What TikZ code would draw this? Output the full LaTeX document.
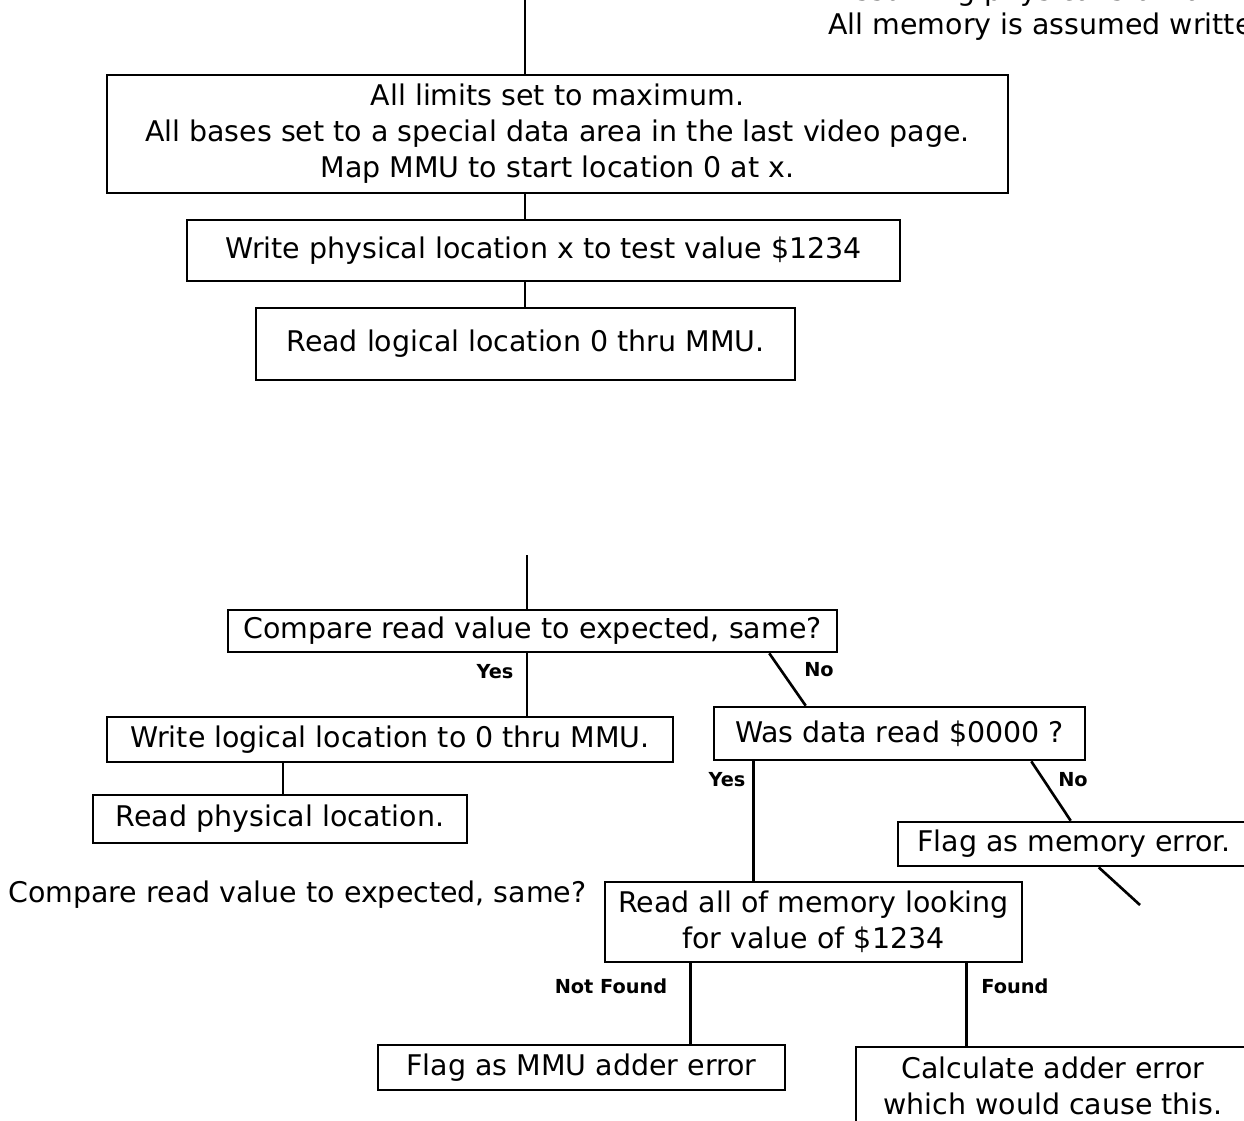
\documentclass[tikz,border=0pt]{standalone}
\usepackage{fontspec}
\setmainfont{DejaVu Sans}
\usetikzlibrary{positioning}
\tikzset{
  stepbox/.style={draw, line width=1.5pt, inner sep=0pt, align=center,
    font=\fontsize{16.2}{20.5}\selectfont},
  wire/.style={line width=1.5pt},
  lab/.style={font=\bfseries\fontsize{11}{13}\selectfont},
  txt/.style={font=\fontsize{16.2}{20}\selectfont, inner sep=0pt},
}

\begin{document}
\begin{tikzpicture}[x=0.02cm,y=-0.02cm]
\clip (0,0) rectangle (1244,1120);

% ===================== note, top right =====================================
\node[txt, anchor=west] (note1) at (836,-7) {Assuming physical start at};
\node[txt, anchor=west] (note2) at (828,27) {All memory is assumed written};

% ===================== upper chain =========================================
\coordinate (spine) at (525,0);
\node[stepbox, minimum width=18.02cm, minimum height=2.36cm] (limits) at (557.5,134)
  {All limits set to maximum.\\
   All bases set to a special data area in the last video page.\\
   Map MMU to start location 0 at x.};
\node[stepbox, minimum width=14.26cm, minimum height=1.22cm] (writephys) at (543.5,250.5)
  {Write physical location x to test value \$1234};
\node[stepbox, minimum width=10.78cm, minimum height=1.44cm] (readlog) at (525.5,344)
  {Read logical location 0 thru MMU.};
\draw[wire] (spine) -- (spine |- limits.north);
\draw[wire] (limits.south -| spine) -- (writephys.north -| spine);
\draw[wire] (writephys.south -| spine) -- (readlog.north -| spine);

% ===================== lower tree ==========================================
\coordinate (spine2) at (527,555);
\node[stepbox, minimum width=12.18cm, minimum height=0.84cm] (cmp) at (532.5,631)
  {Compare read value to expected, same?};
\node[stepbox, minimum width=11.32cm, minimum height=0.9cm] (writelog) at (390,739.5)
  {Write logical location to 0 thru MMU.};
\node[stepbox, minimum width=7.42cm, minimum height=1.06cm] (zero) at (899.5,733.5)
  {Was data read \$0000 ?};
\node[stepbox, minimum width=7.48cm, minimum height=0.96cm] (readphys) at (280,819)
  {Read physical location.};
\node[stepbox, minimum width=7.04cm, minimum height=0.88cm] (memerr) at (1074,844)
  {Flag as memory error.};
\node[txt, anchor=west] (cmp2) at (8,895) {Compare read value to expected, same?};
\node[stepbox, minimum width=8.34cm, minimum height=1.6cm] (search) at (813.5,922)
  {Read all of memory looking\\for value of \$1234};
\node[stepbox, minimum width=8.14cm, minimum height=0.9cm] (mmuerr) at (581.5,1067.5)
  {Flag as MMU adder error};
\node[stepbox, minimum width=7.88cm, minimum height=1.56cm] (calc) at (1053,1086)
  {Calculate adder error\\which would cause this.};
\coordinate (loose) at (1140,905);

\draw[wire] (spine2) -- (spine2 |- cmp.north);
\draw[wire] (cmp.south -| spine2) -- (writelog.north -| spine2);
\draw[wire] ([xshift=-1.38cm]cmp.south east) -- ([xshift=1.86cm]zero.north west);
\draw[wire] ([xshift=-2.14cm]writelog.south) coordinate (w1) -- (readphys.north -| w1);
\draw[wire] ([xshift=0.82cm]zero.south west) coordinate (z1) -- (search.north -| z1);
\draw[wire] ([xshift=-1.1cm]zero.south east) -- ([xshift=3.48cm]memerr.north west);
\draw[wire] ([xshift=4.04cm]memerr.south west) -- (loose);
\draw[wire] ([xshift=1.74cm]search.south west) coordinate (s1) -- (mmuerr.north -| s1);
\draw[wire] ([xshift=7.26cm]search.south west) coordinate (s2) -- (calc.north -| s2);

\node[lab] (yes1) at (495,672) {Yes};
\node[lab] (no1) at (819,670) {No};
\node[lab] (yes2) at (727,780) {Yes};
\node[lab] (no2) at (1073,780) {No};
\node[lab] (notfound) at (611,986) {Not Found};
\node[lab] (found) at (1015,986) {Found};

\end{tikzpicture}
\end{document}
